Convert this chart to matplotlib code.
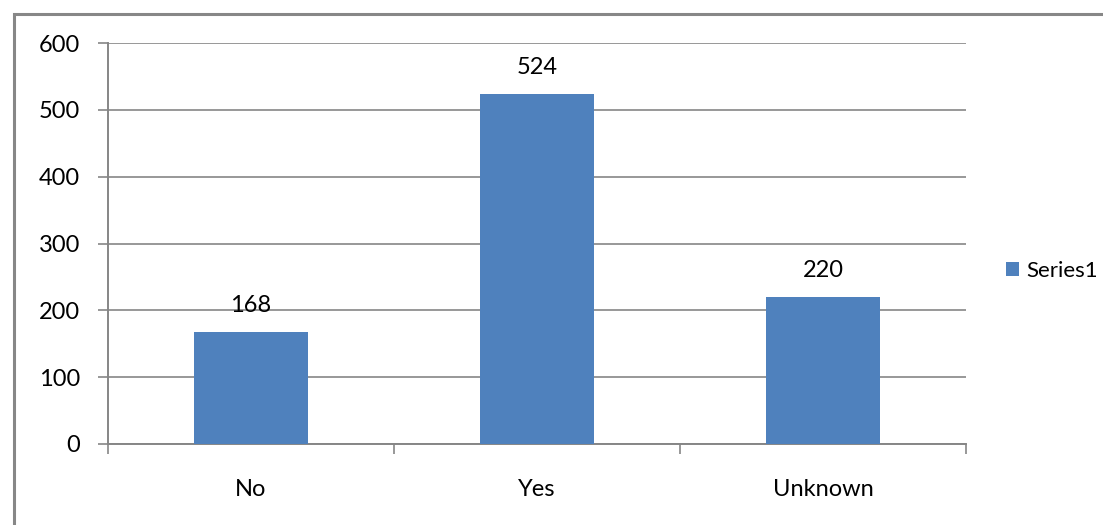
import matplotlib.pyplot as plt
from matplotlib.patches import Rectangle

categories = ['No', 'Yes', 'Unknown']
values = [168, 524, 220]
series_name = 'Series1'

plt.rcParams['font.family'] = ['Lato', 'DejaVu Sans']
W, H = 1103, 525
fig = plt.figure(figsize=(W / 100, H / 100), dpi=100)

# outer chart border (only top/left visible, cropped)
fig.patches.append(Rectangle((14 / W, -0.1), 1.2, 1 - 14 / H + 0.1, transform=fig.transFigure,
                             fill=False, edgecolor='#878787', linewidth=2.2))

ax = fig.add_axes([108 / W, 1 - 444 / H, (966 - 108) / W, (444 - 43) / H])
x = range(len(categories))
bars = ax.bar(x, values, width=0.4, color='#4F81BD', label=series_name, zorder=3)
for b, v in zip(bars, values):
    ax.annotate(str(v), (b.get_x() + b.get_width() / 2, v), xytext=(0, 19),
                textcoords='offset points', ha='center', va='center', fontsize=17)

ax.set_ylim(0, 600)
ax.set_xlim(-0.5, 2.5)
ax.set_yticks(range(0, 601, 100))
ax.yaxis.grid(True, color='#868686', linewidth=1.2, zorder=0)
ax.set_xticks(list(x))
ax.set_xticklabels(categories, fontsize=17)
ax.set_xticks([-0.5, 0.5, 1.5, 2.5], minor=True)
ax.tick_params(axis='x', which='major', length=0, pad=25)
ax.tick_params(axis='x', which='minor', length=7, width=1.2, color='#868686', direction='out')
ax.tick_params(axis='y', labelsize=17, length=7, width=1.2, color='#868686', pad=13)
for s in ['top', 'right']:
    ax.spines[s].set_visible(False)
for s in ['left', 'bottom']:
    ax.spines[s].set_color('#868686')
    ax.spines[s].set_linewidth(1.4)

fig.legend(handles=[bars], labels=[series_name], loc='center left',
           bbox_to_anchor=(1006 / W, 1 - 271 / H), frameon=False, fontsize=16,
           handlelength=0.6, handleheight=0.6, handletextpad=0.3,
           borderpad=0, borderaxespad=0)

fig.savefig('out.png', dpi=100)
